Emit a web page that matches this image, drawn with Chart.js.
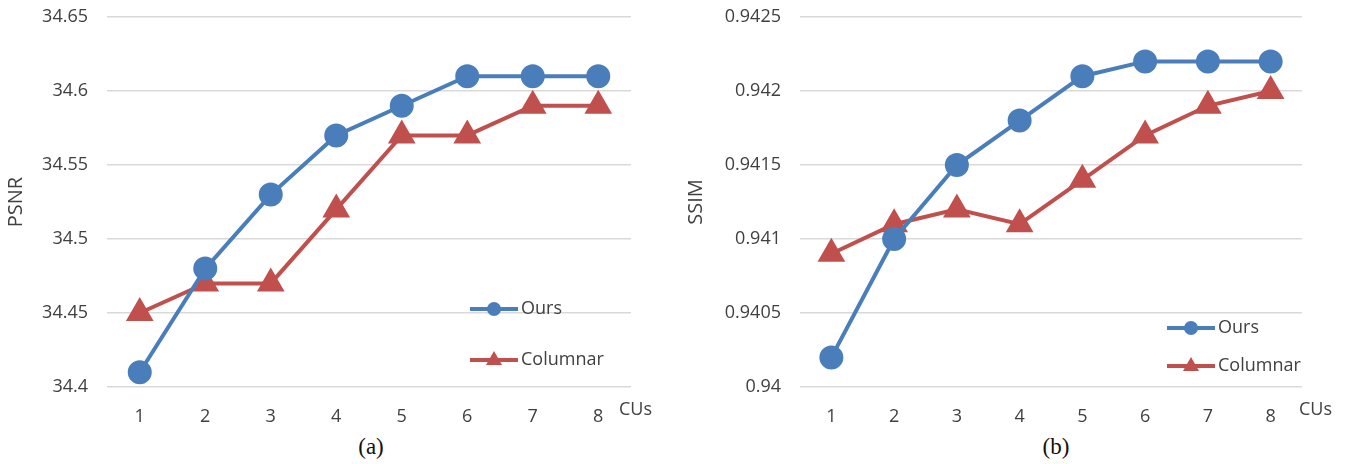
<!DOCTYPE html>
<html>
<head>
<meta charset="utf-8">
<script src="https://cdn.jsdelivr.net/npm/chart.js@4/dist/chart.umd.min.js"></script>
<style>
  body { margin: 0; background: #fff; width: 1346px; height: 464px; position: relative; overflow: hidden; }
  .box { position: absolute; top: 0; }
  .cap { position: absolute; top: 434px; font-family: "Liberation Serif", serif; font-size: 23px; color: #111; transform: translateX(-50%); }
</style>
</head>
<body>
<div class="box" style="left:0;width:680px;height:430px"><canvas id="psnr"></canvas></div>
<div class="box" style="left:680px;width:666px;height:430px"><canvas id="ssim"></canvas></div>
<div class="cap" style="left:371px">(a)</div>
<div class="cap" style="left:1056px">(b)</div>
<script>
// data
const cus = ['1', '2', '3', '4', '5', '6', '7', '8'];
const seriesNames = ['Ours', 'Columnar'];

const psnrOurs = [34.41, 34.48, 34.53, 34.57, 34.59, 34.61, 34.61, 34.61];
const psnrColumnar = [34.45, 34.47, 34.47, 34.52, 34.57, 34.57, 34.59, 34.59];
const psnrTicks = [34.4, 34.65, 0.05]; // min, max, step

const ssimOurs = [0.9402, 0.9410, 0.9415, 0.9418, 0.9421, 0.9422, 0.9422, 0.9422];
const ssimColumnar = [0.9409, 0.9411, 0.9412, 0.9411, 0.9414, 0.9417, 0.9419, 0.9420];
const ssimTicks = [0.94, 0.9425, 0.0005];

const blue = '#4a7ebb';
const red = '#c0504d';
const txt = '#404040';
const font = '"Open Sans", "Noto Sans", sans-serif';

// legend drawn inside the plot, plus the "CUs" note next to the x labels
const innerLegend = {
  id: 'innerLegend',
  afterDraw(chart, args, opts) {
    const ctx = chart.ctx;
    const a = chart.chartArea;
    ctx.save();
    chart.data.datasets.forEach(function (ds, i) {
      const x = a.left + opts.x;
      const y = a.top + opts.y[i];
      ctx.strokeStyle = ds.borderColor;
      ctx.lineWidth = 4;
      ctx.beginPath();
      ctx.moveTo(x, y);
      ctx.lineTo(x + 48, y);
      ctx.stroke();
      ctx.fillStyle = ds.backgroundColor;
      ctx.beginPath();
      if (ds.pointStyle === 'circle') {
        ctx.arc(x + 24, y, 7, 0, Math.PI * 2);
      } else {
        ctx.moveTo(x + 24, y - 9);
        ctx.lineTo(x + 32, y + 5);
        ctx.lineTo(x + 16, y + 5);
        ctx.closePath();
      }
      ctx.fill();
      ctx.fillStyle = txt;
      ctx.font = '18px ' + font;
      ctx.textBaseline = 'middle';
      ctx.fillText(ds.label, x + 51, y);
    });
    ctx.font = '18px ' + font;
    ctx.fillStyle = txt;
    ctx.textBaseline = 'middle';
    ctx.fillText('CUs', a.right + opts.unitGap, a.bottom + 23);
    ctx.restore();
  }
};

function makeChart(id, title, ours, columnar, ticks, yWidth, padRight, legendPos) {
  const step = ticks[2];
  return new Chart(document.getElementById(id), {
    type: 'line',
    data: {
      labels: cus,
      datasets: [
        {
          label: seriesNames[0],
          data: ours,
          borderColor: blue,
          backgroundColor: blue,
          borderWidth: 4,
          pointStyle: 'circle',
          pointRadius: 10,
          pointHoverRadius: 10
        },
        {
          label: seriesNames[1],
          data: columnar,
          borderColor: red,
          backgroundColor: red,
          borderWidth: 4,
          pointStyle: 'triangle',
          pointRadius: 12,
          pointHoverRadius: 12
        }
      ]
    },
    options: {
      responsive: true,
      maintainAspectRatio: false,
      animation: false,
      layout: { padding: { top: 17, right: padRight, left: 0, bottom: 0 } },
      plugins: {
        legend: { display: false },
        tooltip: { enabled: false },
        innerLegend: legendPos
      },
      scales: {
        x: {
          offset: true,
          grid: { display: false },
          border: { display: false },
          ticks: { color: txt, font: { family: font, size: 18 }, padding: 11 },
          afterFit: function (s) { s.height = 43; }
        },
        y: {
          min: ticks[0],
          max: ticks[1],
          grid: { color: '#d9d9d9', lineWidth: 1.5, drawTicks: false },
          border: { display: false },
          title: { display: true, text: title, color: txt, font: { family: font, size: 20 }, padding: 4 },
          ticks: {
            stepSize: step,
            color: txt,
            padding: 19,
            font: { family: font, size: 18 },
            callback: function (v) { return String(Number(v.toFixed(5))); }
          },
          afterFit: function (s) { s.width = yWidth; s.paddingTop = 0; s.paddingBottom = 0; }
        }
      }
    },
    plugins: [innerLegend]
  });
}

makeChart('psnr', 'PSNR', psnrOurs, psnrColumnar, psnrTicks, 107, 49,
  { x: 363, y: [292, 343], unitGap: -12 });
makeChart('ssim', 'SSIM', ssimOurs, ssimColumnar, ssimTicks, 120, 44,
  { x: 367, y: [311, 349], unitGap: -3 });
</script>
</body>
</html>
